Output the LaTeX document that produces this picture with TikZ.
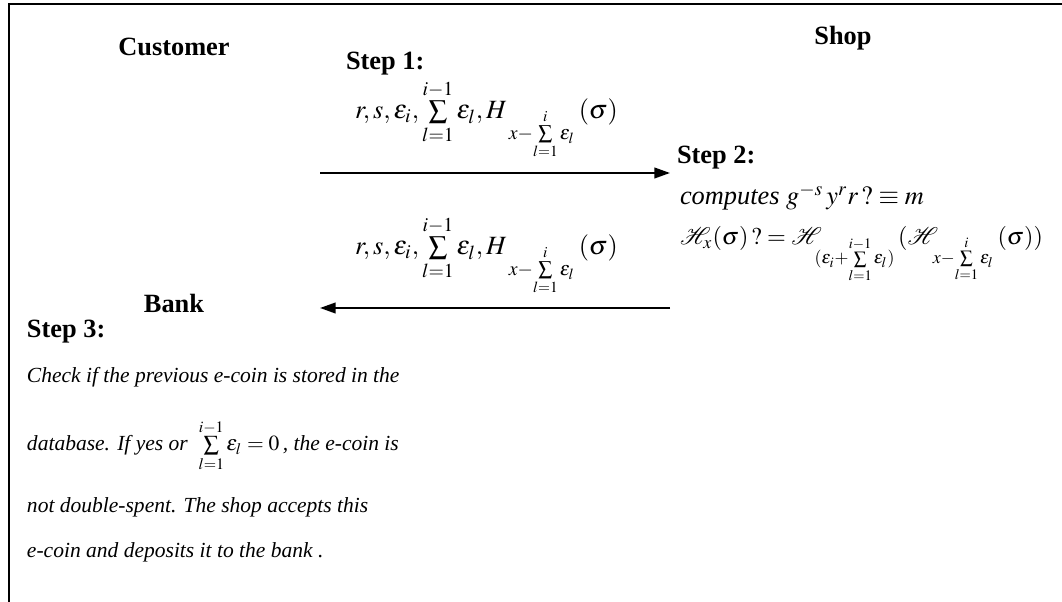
\documentclass[tikz,border=0pt]{standalone}
\usepackage{amsmath}
\usepackage{mathptmx}
\usepackage[no-math]{fontspec}
\setmainfont{Liberation Serif}
\usetikzlibrary{arrows.meta, positioning}

\begin{document}
\begin{tikzpicture}[
    x=0.016cm, y=-0.016cm,
    every node/.style={inner sep=0pt, outer sep=0pt},
    party/.style={font=\fontsize{12}{14}\selectfont\bfseries},
    steplabel/.style={font=\fontsize{12}{14}\selectfont\bfseries, anchor=base west},
    msg/.style={font=\fontsize{12}{14}\selectfont, anchor=base west},
    checktext/.style={font=\fontsize{9.8}{12}\selectfont\itshape, anchor=base west},
    frame/.style={line width=0.9pt},
    flow/.style={line width=0.9pt, -{Triangle[length=0.25cm, width=0.17cm]}}
]

\useasboundingbox (0,0) rectangle (1062,602);
\draw[frame] (9,602) -- (9,4) -- (1062,4);

% parties
\node[party] (customer) at (174,47) {Customer};
\node[party] (shop) at (843,38) {Shop};
\node[party] (bank) at (174,303) {Bank};

% step 1: customer to shop
\node[steplabel] (step1) at (346,70) {Step 1:};
\node[msg] (pay) at (355,119)
  {$r, s, \varepsilon_i, \sum\limits_{l=1}^{i-1}\varepsilon_l, H_{\;x-\sum\limits_{l=1}^{i}\varepsilon_l}\,(\sigma)$};
\coordinate (pay-start) at (320,173);
\coordinate (pay-end) at (670,173);
\draw[flow] (pay-start) -- (pay-end);

% step 2: shop verifies
\node[steplabel] (step2) at (677,164) {Step 2:};
\node[msg] (verify1) at (680,205) {\textit{computes} $g^{-s}\,y^r r\,?\equiv m$};
\node[msg, font=\fontsize{11}{13}\selectfont] (verify2) at (680,245)
  {$\mathcal{H}_x(\sigma)\,?=\mathcal{H}_{(\varepsilon_i+\sum\limits_{l=1}^{i-1}\varepsilon_l)}\,(\mathcal{H}_{\,x-\sum\limits_{l=1}^{i}\varepsilon_l}\,(\sigma))$};

% shop deposits to bank
\node[msg] (deposit) at (355,255)
  {$r, s, \varepsilon_i, \sum\limits_{l=1}^{i-1}\varepsilon_l, H_{\;x-\sum\limits_{l=1}^{i}\varepsilon_l}\,(\sigma)$};
\coordinate (dep-start) at (670,308);
\coordinate (dep-end) at (320,308);
\draw[flow] (dep-start) -- (dep-end);

% step 3: bank checks
\node[steplabel] (step3) at (27,338) {Step 3:};
\node[checktext] (check1) at (27,383) {Check if the previous e-coin is stored in the};
\node[checktext] (check2) at (27,451) {database. If yes or \ $\sum\limits_{l=1}^{i-1}\varepsilon_l=0$\,, the e-coin is};
\node[checktext] (check3) at (27,513) {not double-spent. The shop accepts this};
\node[checktext] (check4) at (27,558) {e-coin and deposits it to the bank .};

\end{tikzpicture}
\end{document}
